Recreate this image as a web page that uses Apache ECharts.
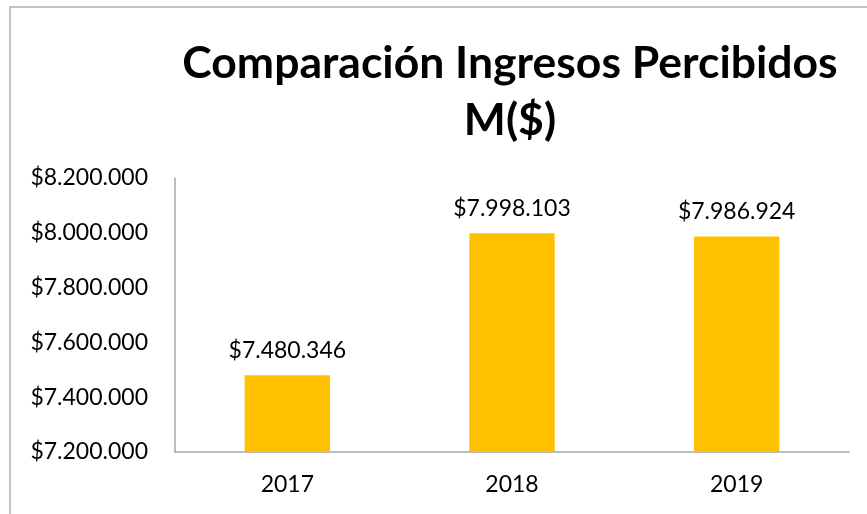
<!DOCTYPE html>
<html>
<head>
<meta charset="utf-8">
<script src="https://cdn.jsdelivr.net/npm/echarts@6/dist/echarts.min.js"></script>
<style>html,body{margin:0;padding:0;background:#fff}#c{width:867px;height:514px}</style>
</head>
<body>
<div id="c"></div>
<script>
const categories = ['2017', '2018', '2019'];
const values = [7480346, 7998103, 7986924];
const yTicks = [7200000, 7400000, 7600000, 7800000, 8000000, 8200000];
const titleLines = ['Comparación Ingresos Percibidos', 'M($)'];

function fmt(v) {
  return '$' + String(Math.round(v)).replace(/\B(?=(\d{3})+(?!\d))/g, '.');
}

const chart = echarts.init(document.getElementById('c'), null, {renderer: 'canvas'});
const FONT = 'Lato, "Open Sans", sans-serif';
chart.setOption({
  animation: false,
  backgroundColor: '#fff',
  title: {
    text: titleLines.join('\n'),
    left: 505,
    textAlign: 'center',
    top: 30,
    textStyle: {fontFamily: FONT, fontWeight: 'bold', fontSize: 44.5, lineHeight: 57, color: '#000'}
  },
  graphic: [{
    type: 'rect', shape: {x: 10, y: 7, width: 900, height: 600},
    style: {fill: 'none', stroke: '#b0b0b0', lineWidth: 1.5}, silent: true
  }],
  grid: {left: 175, right: 18, top: 178, bottom: 62, containLabel: false},
  xAxis: {
    type: 'category', data: categories,
    axisLine: {lineStyle: {color: '#a6a6a6', width: 1.5}},
    axisTick: {show: false},
    axisLabel: {fontFamily: FONT, fontSize: 23, color: '#000', margin: 21}
  },
  yAxis: {
    type: 'value', min: yTicks[0], max: yTicks[yTicks.length - 1], interval: yTicks[1] - yTicks[0],
    axisLine: {show: true, lineStyle: {color: '#a6a6a6', width: 1.5}},
    axisTick: {show: false},
    splitLine: {show: false},
    axisLabel: {fontFamily: FONT, fontSize: 23, color: '#000', margin: 27, formatter: fmt}
  },
  series: [{
    type: 'bar', data: values, barWidth: '38%',
    itemStyle: {color: '#FFC000'},
    label: {show: true, position: 'top', distance: 13, fontFamily: FONT, fontSize: 23, color: '#000', formatter: p => fmt(p.value)}
  }]
});
</script>
</body>
</html>
